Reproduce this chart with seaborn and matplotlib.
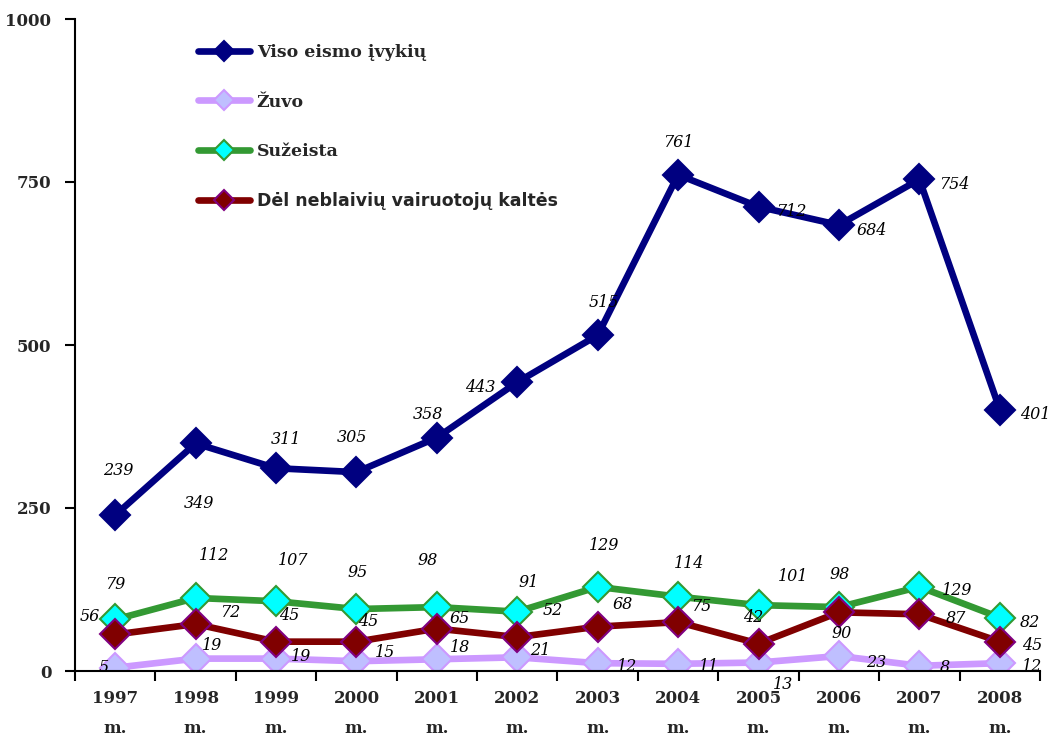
import pandas as pd
import seaborn as sns
import matplotlib.pyplot as plt
from matplotlib.ticker import FixedLocator

years = [1997, 1998, 1999, 2000, 2001, 2002, 2003, 2004, 2005, 2006, 2007, 2008]
year_labels = [f"{y}\nm." for y in years]

viso = [239, 349, 311, 305, 358, 443, 515, 761, 712, 684, 754, 401]
zuvo = [5, 19, 19, 15, 18, 21, 12, 11, 13, 23, 8, 12]
suzeista = [79, 112, 107, 95, 98, 91, 129, 114, 101, 98, 129, 82]
neblaiviu = [56, 72, 45, 45, 65, 52, 68, 75, 42, 90, 87, 45]

names = ["Viso eismo įvykių", "Žuvo", "Sužeista", "Dėl neblaivių vairuotojų kaltės"]

# label offsets in pixels (dx, dy with dy down)
off_viso = [(3, -45), (3, 60), (10, -29), (-4, -35), (-9, -23), (-37, 5),
            (6, -33), (0, -32), (33, 5), (33, 5), (35, 5), (35, 5)]
off_zuvo = [(-12, 0), (16, -13), (25, -2), (29, -9), (23, -12), (23, -7),
            (29, 3), (31, 3), (24, 22), (37, 6), (25, 2), (32, 3)]
off_suz = [(0, -35), (18, -42), (17, -41), (1, -37), (-9, -47), (11, -29),
           (6, -41), (11, -33), (35, -29), (1, -33), (38, 4), (30, 5)]
off_neb = [(-25, -18), (35, -12), (13, -26), (12, -20), (23, -10), (35, -27),
           (25, -22), (23, -16), (-5, -26), (3, 21), (37, 4), (32, 4)]

sns.set_style("white")

fig = plt.figure(figsize=(10.56, 7.4), dpi=100)
ax = fig.add_axes([75 / 1056, 1 - 671 / 740, (1040 - 75) / 1056, (671 - 19) / 740])

styles = [
    (viso, "#000080", "#000080", "#000080", off_viso),
    (zuvo, "#CC99FF", "#BFBFFF", "#CC99FF", off_zuvo),
    (suzeista, "#339933", "#00FFFF", "#339933", off_suz),
    (neblaiviu, "#800000", "#800000", "#800080", off_neb),
]

for name, (vals, lc, fc, ec, offs) in zip(names, styles):
    df = pd.DataFrame({"year": years, "value": vals})
    sns.lineplot(data=df, x="year", y="value", ax=ax, color=lc, linewidth=4.8,
                 marker="D", markersize=15, markerfacecolor=fc,
                 markeredgecolor=ec, markeredgewidth=1.5, label=name)
    for x, v, (dx, dy) in zip(years, vals, offs):
        ax.annotate(str(v), (x, v), xytext=(dx * 0.72, -dy * 0.72),
                    textcoords="offset points", ha="center", va="center",
                    fontsize=11.5, fontstyle="italic", family="DejaVu Serif",
                    color="black")

ax.set_xlim(1996.5, 2008.5)
ax.set_ylim(0, 1000)
ax.set_xlabel("")
ax.set_ylabel("")

ax.set_xticks(years)
ax.set_xticklabels(year_labels, fontsize=12, fontweight="bold",
                   family="DejaVu Serif", linespacing=2.0)
ax.xaxis.set_minor_locator(FixedLocator([y + 0.5 for y in [1996] + years]))
ax.tick_params(axis="x", which="major", length=0, pad=14)
ax.tick_params(axis="x", which="minor", length=7, width=1.5, direction="out",
               bottom=True, color="black")

ax.set_yticks([0, 250, 500, 750, 1000])
ax.set_yticklabels(["0", "250", "500", "750", "1000"], fontsize=12,
                   fontweight="bold", family="DejaVu Serif")
ax.tick_params(axis="y", length=7, width=1.5, direction="out", left=True,
               color="black", pad=10)

for s in ["top", "right"]:
    ax.spines[s].set_visible(False)
for s in ["left", "bottom"]:
    ax.spines[s].set_color("black")
    ax.spines[s].set_linewidth(1.5)

leg = ax.legend(loc="upper left", bbox_to_anchor=(0.111, 0.985), frameon=False,
                handlelength=3.0, handletextpad=0.4, labelspacing=1.85,
                markerscale=0.65,
                prop={"family": "DejaVu Serif", "weight": "bold", "size": 12.5})
leg.get_texts()[3].set_family("DejaVu Sans")

fig.savefig("out.png", dpi=100)
